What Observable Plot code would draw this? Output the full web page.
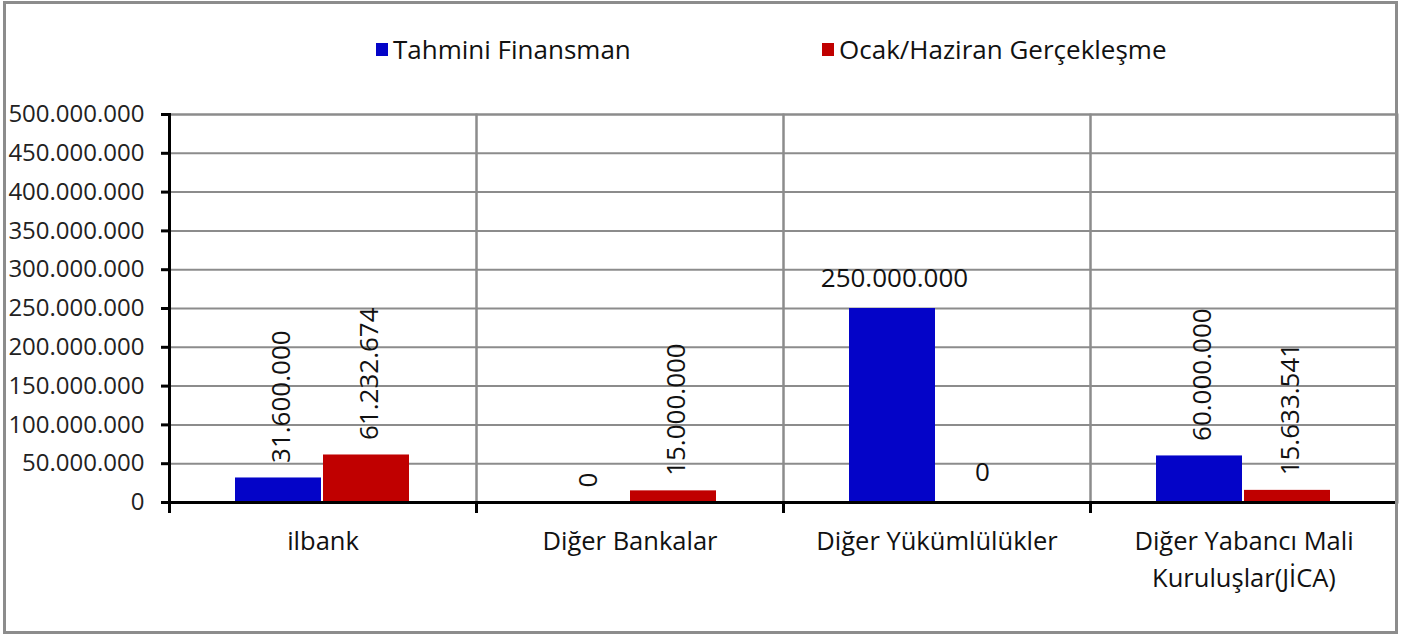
<!DOCTYPE html>
<html>
<head>
<meta charset="utf-8">
<script src="https://cdn.jsdelivr.net/npm/d3@7"></script>
<script src="https://cdn.jsdelivr.net/npm/@observablehq/plot@0.6"></script>
<style>
  html, body { margin: 0; padding: 0; background: #fff; }
  #wrap { position: relative; width: 1409px; height: 636px; font-family: "Open Sans", sans-serif; }
  #border { position: absolute; left: 3px; top: 1px; width: 1395px; height: 633px; border: 3px solid #8c8c8c; box-sizing: border-box; pointer-events: none; }
  #legend { position: absolute; top: 29px; left: 0; width: 1409px; height: 40px; font-size: 26px; color: #111; }
  .item { position: absolute; top: 0; display: flex; align-items: center; height: 40px; white-space: nowrap; }
  .sw { width: 12px; height: 13px; margin-right: 5px; }
  #chart { position: absolute; left: 0; top: 0; }
</style>
</head>
<body>
<div id="wrap">
  <div id="chart"></div>
  <div id="legend"></div>
  <div id="border"></div>
</div>
<script>
// ---- data ----
const categories = ["ilbank", "Diğer Bankalar", "Diğer Yükümlülükler", "Diğer Yabancı Mali Kuruluşlar(JİCA)"];
const categoryLabels = ["ilbank", "Diğer Bankalar", "Diğer Yükümlülükler", "Diğer Yabancı Mali\nKuruluşlar(JİCA)"];
const series = ["Tahmini Finansman", "Ocak/Haziran Gerçekleşme"];
const tahminiFinansman = [31600000, 0, 250000000, 60000000];
const ocakHaziranGerceklesme = [61232674, 15000000, 0, 15633541];
const yTicks = [0, 50000000, 100000000, 150000000, 200000000, 250000000, 300000000, 350000000, 400000000, 450000000, 500000000];
const seriesColors = ["#0404c8", "#c00000"];
const horizontalLabelCategory = "Diğer Yükümlülükler";

// ---- build table ----
const seriesValues = [tahminiFinansman, ocakHaziranGerceklesme];
const rows = [];
categories.forEach((c, i) => series.forEach((s, j) => rows.push({category: c, series: s, value: seriesValues[j][i]})));
const labelOf = Object.fromEntries(categories.map((c, i) => [c, categoryLabels[i]]));

const trFormat = d3.formatLocale({decimal: ",", thousands: ".", grouping: [3], currency: ["", ""]}).format(",d");

const W = 1409, H = 636, mL = 168, mR = 12, mT = 114, mB = 134;
const innerH = H - mT - mB;

const rotated = rows.filter(d => d.category !== horizontalLabelCategory);
const flat = rows.filter(d => d.category === horizontalLabelCategory);

const chart = Plot.plot({
  width: W,
  height: H,
  marginLeft: mL,
  marginRight: mR,
  marginTop: mT,
  marginBottom: mB,
  style: {fontFamily: "Open Sans, sans-serif", background: "transparent"},
  fx: {domain: categories, padding: 0, axis: null, label: null},
  x: {domain: series, paddingInner: 0.0225, paddingOuter: 0.737, axis: null, label: null},
  y: {domain: [0, 500000000], axis: null, label: null},
  color: {domain: series, range: seriesColors},
  marks: [
    Plot.gridY(yTicks, {stroke: "#8c8c8c", strokeOpacity: 1, strokeWidth: 2}),
    Plot.frame({stroke: "#8c8c8c", strokeWidth: 2}),
    Plot.barY(rows, {fx: "category", x: "series", y: "value", fill: "series"}),
    Plot.text(rotated, {fx: "category", x: "series", y: "value", text: d => trFormat(d.value),
      rotate: -90, textAnchor: "start", dx: 3, dy: -15, fontSize: 26, fill: "#111"}),
    Plot.text(flat, {fx: "category", x: "series", y: "value", text: d => trFormat(d.value),
      lineAnchor: "bottom", dx: 2, dy: -22, fontSize: 26, fill: "#111"}),
    Plot.text(categories, {fx: d => d, frameAnchor: "bottom", text: d => labelOf[d],
      lineAnchor: "top", dy: 21, lineHeight: 1.45, fontSize: 25.5, fill: "#111"}),
    Plot.axisY({ticks: yTicks, tickFormat: trFormat, tickSize: 8, tickPadding: 17, fontSize: 24,
      stroke: "#000", strokeWidth: 3, fill: "#222", label: null}),
    Plot.frame({anchor: "left", facet: "super", stroke: "#000", strokeWidth: 3}),
    Plot.frame({anchor: "left", insetTop: innerH, insetBottom: -9, stroke: "#000", strokeWidth: 3}),
    Plot.ruleY([0], {stroke: "#000", strokeWidth: 3})
  ]
});
document.getElementById("chart").appendChild(chart);

// ---- legend ----
const legend = document.getElementById("legend");
const legendLeft = [376, 822];
series.forEach((s, i) => {
  const item = document.createElement("div");
  item.className = "item";
  item.style.left = legendLeft[i] + "px";
  const sw = document.createElement("span");
  sw.className = "sw";
  sw.style.background = seriesColors[i];
  const t = document.createElement("span");
  t.textContent = s;
  item.appendChild(sw);
  item.appendChild(t);
  legend.appendChild(item);
});
</script>
</body>
</html>
